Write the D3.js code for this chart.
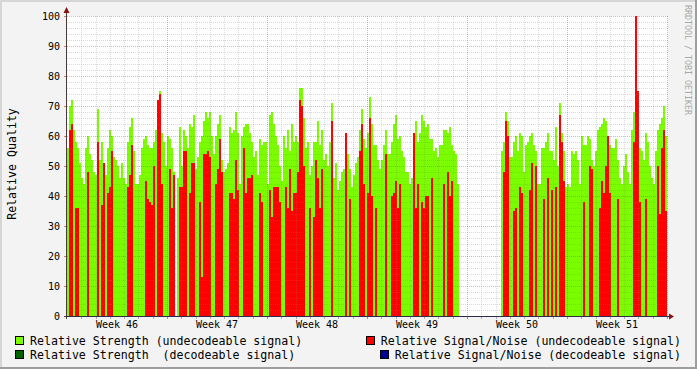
<!DOCTYPE html>
<html><head><meta charset="utf-8">
<script src="https://cdn.jsdelivr.net/npm/d3@7"></script>
<style>body{margin:0;background:#f3f3f3} svg{display:block} text{font-family:"DejaVu Sans Mono",monospace}</style>
</head><body><svg id="c" width="697" height="369"></svg>
<script>
// ---- data ----
const weekLabels = ["Week 46","Week 47","Week 48","Week 49","Week 50","Week 51"];
const yTickValues = [0,10,20,30,40,50,60,70,80,90,100];
const daysTotal = 42;
const sampleCount = 300;
// Relative Strength (undecodeable signal)
const strengthUndec = [
56,70,72,62,58,56,51,46,44,56,60,54,52,48,47,69,52,58,50,47,56,62,60,53,52,50,46,51,46,44,58,63,66,55,44,44,47,56,59,60,57,56,56,58,62,70,75,61,58,50,60,59,56,48,0,46,63,50,62,60,
56,64,63,67,49,53,58,60,65,68,66,68,60,54,60,64,67,52,48,49,51,63,61,62,68,61,44,60,63,64,64,61,58,53,55,47,59,57,58,58,44,67,68,64,60,57,50,45,60,56,62,55,64,58,60,58,76,76,66,56,
58,47,50,58,58,65,57,62,52,54,50,58,71,46,51,42,45,48,49,58,54,49,43,47,51,53,62,69,59,56,61,73,64,57,57,52,49,52,57,62,54,54,58,64,67,59,60,55,53,48,48,44,46,58,65,58,61,67,65,63,
64,59,59,55,56,53,57,57,62,62,61,63,57,55,54,44,0,0,0,0,0,0,0,0,0,0,0,0,0,0,0,0,0,0,0,0,0,55,58,68,65,53,53,58,60,55,61,60,48,57,58,60,61,57,55,44,44,56,56,58,
61,55,55,52,63,50,71,61,55,43,44,43,55,54,55,52,44,60,57,57,60,59,52,50,55,62,63,64,66,65,58,57,56,56,59,52,46,44,50,54,48,44,62,68,90,67,56,55,52,61,58,50,46,44,55,62,64,66,70,60
];
// Relative Signal/Noise (undecodeable signal)
const snrUndec = [
0,62,64,0,36,36,0,0,0,0,48,0,0,0,0,58,0,37,51,0,41,43,55,0,0,0,0,0,0,0,43,47,57,0,0,0,0,0,0,45,39,38,37,50,0,72,74,44,0,0,0,49,36,47,0,0,43,43,55,55,
0,41,51,51,0,0,38,13,54,54,55,53,0,0,44,49,59,48,0,0,0,41,41,39,52,42,0,0,56,41,46,46,47,0,0,0,41,38,0,0,0,42,33,43,43,43,38,0,0,43,36,49,35,41,41,48,72,70,50,0,
0,36,0,33,52,46,36,49,0,0,0,0,65,0,0,0,0,0,0,61,0,39,0,0,0,0,55,64,44,0,41,66,40,0,36,0,0,0,0,54,0,0,40,41,45,36,44,0,0,0,0,0,0,61,36,44,0,38,36,40,
40,0,46,0,0,0,0,0,44,0,48,40,45,0,0,0,0,0,0,0,0,0,0,0,0,0,0,0,0,0,0,0,0,0,0,0,0,0,48,65,60,0,0,35,36,0,43,41,0,0,0,42,51,0,50,0,0,0,39,0,
46,0,42,0,43,0,67,58,45,0,0,0,0,0,0,0,0,0,38,0,0,50,49,0,0,0,36,45,41,50,60,41,0,0,0,39,0,0,0,0,0,0,0,58,100,75,38,0,0,39,0,0,0,0,0,50,34,56,62,35
];
// decodeable series: no samples in this period
const strengthDec = [];
const snrDec = [];
const legendLeft = ["Relative Strength (undecodeable signal)","Relative Strength  (decodeable signal)"];
const legendRight = ["Relative Signal/Noise (undecodeable signal)","Relative Signal/Noise (decodeable signal)"];
const colors = {strU:"#7cfc00", strD:"#006400", snrU:"#ff0000", snrD:"#000099"};

// ---- drawing ----
const svg = d3.select("#c");
const W = 697, H = 369;
const x0 = 67, x1 = 667, yTop = 16, yBot = 316;
svg.append("rect").attr("width",W).attr("height",H).attr("fill","#f3f3f3");
// 3D frame
svg.append("rect").attr("x",0).attr("y",0).attr("width",W).attr("height",2).attr("fill","#d6d6d6");
svg.append("rect").attr("x",0).attr("y",0).attr("width",2).attr("height",H).attr("fill","#d6d6d6");
svg.append("rect").attr("x",0).attr("y",H-2).attr("width",W).attr("height",2).attr("fill","#9e9e9e");
svg.append("rect").attr("x",W-2).attr("y",0).attr("width",2).attr("height",H).attr("fill","#9e9e9e");

const x = d3.scaleLinear().domain([0,daysTotal]).range([x0,x1]);
const y = d3.scaleLinear().domain([0,100]).range([yBot,yTop]);
const step = daysTotal/sampleCount;

svg.append("rect").attr("x",x0).attr("y",yTop).attr("width",x1-x0+1).attr("height",yBot-yTop).attr("fill","#ffffff");

const g = svg.append("g").attr("shape-rendering","crispEdges");
function bars(data, color){
  g.append("g").selectAll("rect").data(data.map((v,i)=>({v,i})).filter(d=>d.v>0)).join("rect")
    .attr("x",d=>x(d.i*step)).attr("width",d=>x((d.i+1)*step)-x(d.i*step))
    .attr("y",d=>y(d.v)).attr("height",d=>y(0)-y(d.v)).attr("fill",color);
}
bars(strengthUndec, colors.strU);
bars(strengthDec, colors.strD);
bars(snrUndec, colors.snrU);
bars(snrDec, colors.snrD);

// grid
const grid = svg.append("g").attr("shape-rendering","crispEdges");
const minorY = d3.range(2,101,2).filter(v=>v%10!==0);
const majorY = yTickValues.filter(v=>v>0);
const days = d3.range(1,daysTotal+1);
const minorX = days.filter(d=>d%7!==0);
const majorX = days.filter(d=>d%7===0);
const minorCol = "rgba(128,128,128,0.3)", majorCol = "rgba(200,50,50,0.38)";
grid.selectAll(".hm").data(minorY).join("line")
  .attr("x1",x0).attr("x2",x1+1).attr("y1",d=>Math.round(y(d))+0.5).attr("y2",d=>Math.round(y(d))+0.5)
  .attr("stroke",minorCol).attr("stroke-dasharray","1,1");
grid.selectAll(".vm").data(minorX).join("line")
  .attr("y1",yTop).attr("y2",yBot).attr("x1",d=>Math.round(x(d))+0.5).attr("x2",d=>Math.round(x(d))+0.5)
  .attr("stroke",minorCol).attr("stroke-dasharray","1,1");
grid.selectAll(".hM").data(majorY).join("line")
  .attr("x1",x0).attr("x2",x1+1).attr("y1",d=>Math.round(y(d))+0.5).attr("y2",d=>Math.round(y(d))+0.5)
  .attr("stroke",majorCol).attr("stroke-dasharray","1,1");
grid.selectAll(".vM").data(majorX).join("line")
  .attr("y1",yTop).attr("y2",yBot).attr("x1",d=>Math.round(x(d))+0.5).attr("x2",d=>Math.round(x(d))+0.5)
  .attr("stroke",majorCol).attr("stroke-dasharray","1,1");

// axes
const ax = svg.append("g").attr("shape-rendering","crispEdges");
ax.append("line").attr("x1",x0-0.5).attr("x2",x0-0.5).attr("y1",yBot+3).attr("y2",yTop-6).attr("stroke","#4a3a3a");
ax.append("line").attr("x1",x0-3).attr("x2",x1+4).attr("y1",yBot+0.5).attr("y2",yBot+0.5).attr("stroke","#2c2c4a");
// ticks
ax.selectAll(".tx").data(days).join("line")
  .attr("x1",d=>Math.round(x(d))+0.5).attr("x2",d=>Math.round(x(d))+0.5)
  .attr("y1",yBot+1).attr("y2",yBot+3).attr("stroke",d=>d%7===0?"rgba(190,40,40,0.6)":"rgba(128,128,128,0.6)");
ax.selectAll(".ty").data(yTickValues).join("line")
  .attr("x1",x0-3).attr("x2",x0-1).attr("y1",d=>Math.round(y(d))+0.5).attr("y2",d=>Math.round(y(d))+0.5)
  .attr("stroke","rgba(190,40,40,0.6)");
// arrows
svg.append("path").attr("d",`M${x0-3.5},${yTop-3} L${x0-0.5},${yTop-9} L${x0+2.5},${yTop-3} Z`).attr("fill","#8b1010");
svg.append("path").attr("d",`M${x1+2},${yBot-2.5} L${x1+7},${yBot+0.5} L${x1+2},${yBot+3.5} Z`).attr("fill","#8b1010");

// tick labels
svg.append("g").selectAll("text").data(yTickValues).join("text")
  .attr("x",60).attr("y",d=>y(d)).attr("dy","0.35em").attr("text-anchor","end")
  .attr("font-size","10px").attr("fill","#000").text(d=>d);
svg.append("g").selectAll("text").data(weekLabels).join("text")
  .attr("x",(d,i)=>x(i*7+3.5)).attr("y",328).attr("text-anchor","middle")
  .attr("font-size","10px").attr("fill","#000").text(d=>d);

// axis title
svg.append("text").attr("transform",`translate(16,164) rotate(-90)`).attr("text-anchor","middle")
  .attr("font-size","11.6px").attr("fill","#000").text("Relative Quality");
// watermark
svg.append("text").attr("transform",`translate(685,5) rotate(90)`).attr("text-anchor","start")
  .attr("font-size","8.3px").attr("fill","#a8a8a8").text("RRDTOOL / TOBI OETIKER");

// legend
const lg = svg.append("g");
const rowsY = [345, 359];
const leftCols = [colors.strU, colors.strD];
const rightCols = [colors.snrU, colors.snrD];
legendLeft.forEach((t,i)=>{
  lg.append("rect").attr("x",15.5).attr("y",rowsY[i]-8.5).attr("width",8).attr("height",8)
    .attr("fill",leftCols[i]).attr("stroke","#000").attr("shape-rendering","crispEdges");
  lg.append("text").attr("x",30).attr("y",rowsY[i]).attr("font-size","11.6px").style("white-space","pre")
    .attr("fill","#000").text(t);
});
legendRight.forEach((t,i)=>{
  const tx = lg.append("text").attr("x",681).attr("y",rowsY[i]).attr("text-anchor","end")
    .attr("font-size","11.6px").style("white-space","pre").attr("fill","#000").text(t);
  const w = tx.node().getComputedTextLength();
  lg.append("rect").attr("x",Math.round(681-w-15)+0.5).attr("y",rowsY[i]-8.5).attr("width",8).attr("height",8)
    .attr("fill",rightCols[i]).attr("stroke","#000").attr("shape-rendering","crispEdges");
});
</script></body></html>
